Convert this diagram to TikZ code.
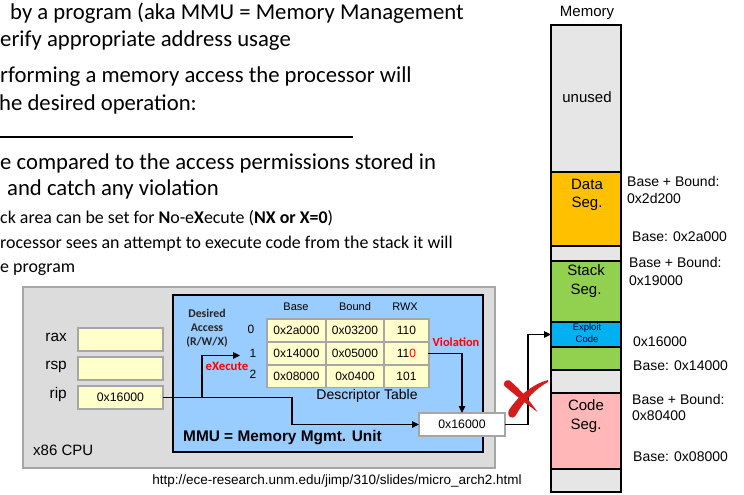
\documentclass[tikz,border=0pt]{standalone}
\usepackage{fontspec}
\setmainfont{Carlito}
\newfontfamily\arialf{Liberation Sans}
\usetikzlibrary{arrows.meta}
\definecolor{cpugray}{HTML}{DCDCDC}
\definecolor{edgegray}{HTML}{A6A6A6}
\definecolor{mmublue}{HTML}{99CCFF}
\definecolor{celly}{HTML}{FFFFCC}
\definecolor{unusedgray}{HTML}{E6E6E6}
\definecolor{dataorange}{HTML}{FFC000}
\definecolor{stackgreen}{HTML}{92D050}
\definecolor{exploitblue}{HTML}{00B0F0}
\definecolor{codepink}{HTML}{FFB7B7}
\definecolor{xred}{HTML}{D41C1C}
\definecolor{violred}{HTML}{FF0000}
\newcommand\fsz[1]{\fontsize{#1}{#1}\selectfont}
\begin{document}
\begin{tikzpicture}[x=1pt,y=-1pt,
  slide/.style={anchor=base west, inner sep=0pt, font=\fsz{22.7}},
  small/.style={anchor=base west, inner sep=0pt, font=\fsz{17.9}},
  lbl/.style={inner sep=0pt, anchor=mid, font=\arialf\fsz{#1}},
  lblw/.style={inner sep=0pt, anchor=mid west, font=\arialf\fsz{#1}},
  reg/.style={draw=edgegray, fill=celly, line width=2pt, minimum width=85pt,
    minimum height=23pt, inner sep=0pt, outer sep=0pt},
  cell/.style={fill=celly, inner sep=0pt, outer sep=0pt, minimum height=21pt,
    font=\arialf\fsz{12}},
  seg/.style={draw=black, line width=2.5pt, minimum width=70pt, inner sep=0pt,
    outer sep=0pt},
  arr/.style={line width=1.4pt, -{Triangle[length=7pt,width=6.5pt]}}]
\useasboundingbox (0,0) rectangle (744,495);
\clip (0,0) rectangle (744,495);

% ---- slide text ----
\node[slide] (t1) at (10,20) {by a program (aka MMU = Memory Management};
\node[slide] (t2) at (0,47) {erify appropriate address usage};
\node[slide] (t3) at (0,82) {rforming a memory access the processor will};
\node[slide] (t4) at (-1,110) {he desired operation:};
\draw[line width=1.1pt] (0,137) -- (353,137);
\node[slide] (t5) at (0,169) {e compared to the access permissions stored in};
\node[slide] (t6) at (7,195) {and catch any violation};
\node[small] (t7) at (0,223) {ck area can be set for \textbf{N}o-e\textbf{X}ecute (\textbf{NX or X=0})};
\node[small] (t8) at (0,248) {rocessor sees an attempt to execute code from the stack it will};
\node[small] (t9) at (0,272) {e program};

% ---- CPU ----
\node[draw=edgegray, fill=cpugray, line width=2pt, minimum width=472pt,
  minimum height=181pt, inner sep=0pt] (cpu) at (259,377.5) {};
\node[lblw=15] (cpulbl) at (33,453) {x86 CPU};

\node[reg] (rax) at (120.5,339.5) {};
\node[reg] (rsp) at (120.5,368) {};
\node[reg, font=\arialf\fsz{12.3}] (rip) at (120.5,397.5) {0x16000};
\node[lbl=15.4, anchor=mid east] (raxl) at (67,339) {rax};
\node[lbl=15.4, anchor=mid east] (rspl) at (67,367) {rsp};
\node[lbl=15.4, anchor=mid east] (ripl) at (67,396) {rip};

% ---- MMU ----
\node[draw=black, fill=mmublue, line width=2.5pt, minimum width=310pt,
  minimum height=157pt, inner sep=0pt] (mmu) at (328,373.5) {};
\node[inner sep=0pt, anchor=mid west, font=\arialf\bfseries\fsz{15.4}] (mmulbl)
  at (183,439) {MMU = Memory Mgmt. Unit};
\node[inner sep=0pt, align=center, font=\bfseries\fontsize{11.8}{13.8}\selectfont,
  text=black!85] (acc) at (207,328) {Desired\\Access\\(R/W/X)};
\node[inner sep=0pt, font=\bfseries\fsz{12.8}, text=violred] (exe) at (227,366) {eXecute};

% descriptor table
\node[fill=edgegray, minimum width=164pt, minimum height=70pt, inner sep=0pt] (tbl) at (348,353) {};
\node[lbl=11] (hb) at (296,308) {Base};
\node[lbl=11] (hbd) at (355,308) {Bound};
\node[lbl=11] (hr) at (405,308) {RWX};
\node[lbl=12] (r0) at (251,331) {0};
\node[lbl=12] (r1) at (253,355) {1};
\node[lbl=12] (r2) at (253,376) {2};
\node[cell, minimum width=57pt] (c00) at (296.5,330.5) {0x2a000};
\node[cell, minimum width=56pt] (c01) at (355,330.5) {0x03200};
\node[cell, minimum width=43pt] (c02) at (406.5,330.5) {110};
\node[cell, minimum width=57pt] (c10) at (296.5,353.5) {0x14000};
\node[cell, minimum width=56pt] (c11) at (355,353.5) {0x05000};
\node[cell, minimum width=43pt] (c12) at (406.5,353.5) {11{\color{violred}0}};
\node[cell, minimum width=57pt] (c20) at (296.5,376) {0x08000};
\node[cell, minimum width=56pt] (c21) at (355,376) {0x0400};
\node[cell, minimum width=43pt] (c22) at (406.5,376) {101};
\node[lbl=14] (dt) at (367,397) {Descriptor Table};
\node[inner sep=0pt, font=\bfseries\fsz{12.4}, text=violred] (viol) at (456,342) {Violation};

% address sent to memory
\node[draw=edgegray, fill=white, line width=2pt, minimum width=86pt,
  minimum height=23pt, inner sep=0pt, outer sep=0pt, font=\arialf\fsz{12.3}]
  (addr) at (462,424.5) {0x16000};

% ---- Memory ----
\node[lbl=15] (memlbl) at (587,14) {Memory};
\node[seg, fill=unusedgray, minimum height=147pt] (unused) at (586,98.5) {};
\node[seg, fill=dataorange, minimum height=74pt] (data) at (586,209) {};
\node[seg, fill=unusedgray, minimum height=15pt] (gapa) at (586,253.5) {};
\node[seg, fill=stackgreen, minimum height=61pt] (stack) at (586,291.5) {};
\node[seg, fill=exploitblue, minimum height=25pt] (exploit) at (586,334.5) {};
\node[seg, fill=stackgreen, minimum height=23pt] (stackb) at (586,358.5) {};
\node[seg, fill=unusedgray, minimum height=23pt] (gapb) at (586,381.5) {};
\node[seg, fill=codepink, minimum height=76pt] (code) at (586,431) {};
\node[seg, fill=unusedgray, minimum height=23pt] (gapc) at (586,480.5) {};

\node[lbl=15] (unusedl) at (587,100) {unused};
\node[lbl=15] (datal1) at (587,187) {Data};
\node[lbl=15] (datal2) at (587,205) {Seg.};
\node[lbl=15] (stackl1) at (586,273) {Stack};
\node[lbl=15] (stackl2) at (586,292) {Seg.};
\node[lbl=9.5, text=black!80!blue] (expl1) at (587,328) {Exploit};
\node[lbl=9.5, text=black!80!blue] (expl2) at (587,340) {Code};
\node[lbl=15] (codel1) at (586,408) {Code};
\node[lbl=15] (codel2) at (586,427) {Seg.};

\node[lblw=14] (m1) at (627,184) {Base + Bound:};
\node[lblw=14] (m2) at (627,201) {0x2d200};
\node[lblw=14] (m3) at (632,239) {Base: 0x2a000};
\node[lblw=14] (m4) at (629,265) {Base + Bound:};
\node[lblw=14] (m5) at (629,283) {0x19000};
\node[lblw=14] (m6) at (633,344) {0x16000};
\node[lblw=14] (m7) at (633,368) {Base: 0x14000};
\node[lblw=14] (m8) at (632,402) {Base + Bound:};
\node[lblw=14] (m9) at (632,418) {0x80400};
\node[lblw=14] (m10) at (633,459) {Base: 0x08000};

% ---- connectors ----
\coordinate (jA) at (202,397.5);
\coordinate (jB) at (292,397.5);
\coordinate (xin) at (240,355.5);
\coordinate (jC) at (528,424.5);
\draw[arr] (rip.east) -- (jB) |- (addr.west);
\draw[arr] (jA) |- (xin);
\draw[arr] (c12.east) -| (addr.north);
\draw[arr] (addr.east) -- (jC) |- (exploit.west);

% red brush-stroke cross over the blocked access
\fill[xred] (509.5,380.5) .. controls (520,389) and (530,401) .. (537.5,412)
  .. controls (528,405) and (515,395) .. (504.5,386)
  .. controls (502.5,383.5) and (505.5,379) .. (509.5,380.5) -- cycle;
\fill[xred] (548,380) .. controls (533,384) and (518,396) .. (509,410)
  .. controls (506,416) and (512,421) .. (516,415)
  .. controls (523,402) and (535,389) .. (548,382) -- cycle;

% source
\node[lbl=13.5] (url) at (337,482) {http://ece-research.unm.edu/jimp/310/slides/micro\_arch2.html};
\end{tikzpicture}
\end{document}
